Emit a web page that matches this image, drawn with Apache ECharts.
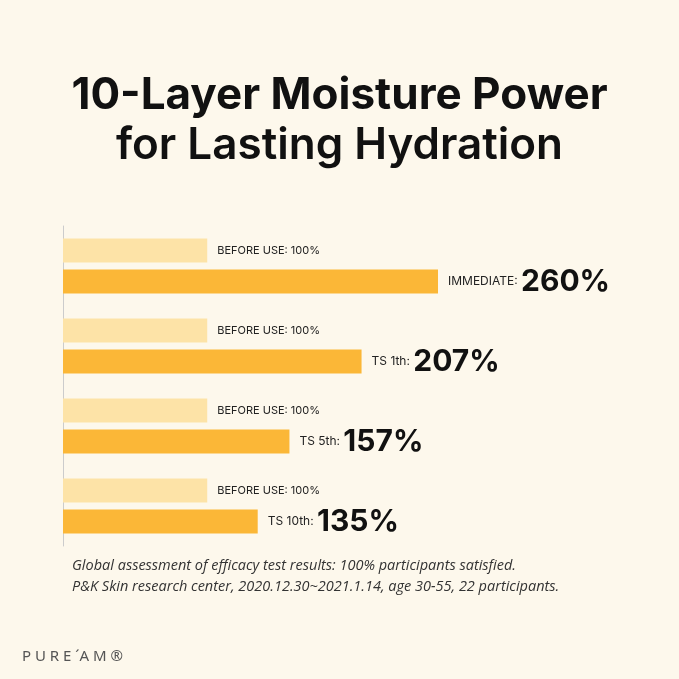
<!DOCTYPE html>
<html lang="en" style="height: 100%">
<head>
<meta charset="utf-8">
<title>10-Layer Moisture Power</title>
</head>
<body style="height: 100%; margin: 0; background: #fdf8ec">
<div id="container" style="height: 100%"></div>
<script type="text/javascript" src="https://cdn.jsdelivr.net/npm/echarts/dist/echarts.min.js"></script>
<script type="text/javascript">
var dom = document.getElementById('container');
var myChart = echarts.init(dom);

var stages = ['IMMEDIATE', 'TS 1th', 'TS 5th', 'TS 10th'];
var beforeValues = [100, 100, 100, 100];
var afterValues = [260, 207, 157, 135];

var option = {
    backgroundColor: '#fdf8ec',
    animation: false,
    graphic: [
        {type: 'text', left: 'center', top: 74, style: {text: '10-Layer Moisture Power', font: '700 44px Inter', fill: '#111'}},
        {type: 'text', left: 'center', top: 124, style: {text: 'for Lasting Hydration', font: '600 44px Inter', fill: '#111'}},
        {type: 'text', left: 72, top: 558, style: {text: 'Global assessment of efficacy test results: 100% participants satisfied.', font: 'italic 14.5px "Open Sans"', fill: '#333'}},
        {type: 'text', left: 72, top: 579, style: {text: 'P&K Skin research center, 2020.12.30~2021.1.14, age 30-55, 22 participants.', font: 'italic 14.5px "Open Sans"', fill: '#333'}},
        {type: 'text', left: 22, top: 649, style: {text: 'P U R E ´A M ®', font: '15px "Noto Sans"', fill: '#555'}}
    ],
    grid: {left: 63, right: 241, top: 226, bottom: 133},
    xAxis: {type: 'value', min: 0, max: 260, show: false},
    yAxis: {
        type: 'category', data: stages, inverse: true,
        axisLine: {show: true, lineStyle: {color: '#ccc'}},
        axisTick: {show: false}, axisLabel: {show: false}
    },
    series: [
        {
            name: 'Before', type: 'bar', data: beforeValues, barWidth: 24, barGap: '30%',
            itemStyle: {color: '#fde3a7'},
            label: {
                show: true, position: 'right', distance: 10, color: '#222',
                fontFamily: 'Inter', fontSize: 11,
                formatter: function (p) { return 'BEFORE USE: ' + p.value + '%'; }
            }
        },
        {
            name: 'After', type: 'bar', data: afterValues, barWidth: 24,
            itemStyle: {color: '#fbb737'},
            label: {
                show: true, position: 'right', distance: 10,
                formatter: function (p) { return '{a|' + p.name + ':} {b|' + p.value + '%}'; },
                rich: {
                    a: {fontFamily: 'Inter', fontSize: 12, color: '#222'},
                    b: {fontFamily: 'Inter', fontSize: 30, fontWeight: 700, color: '#111'}
                }
            }
        }
    ]
};

myChart.setOption(option);
window.addEventListener('resize', myChart.resize);
</script>
</body>
</html>
